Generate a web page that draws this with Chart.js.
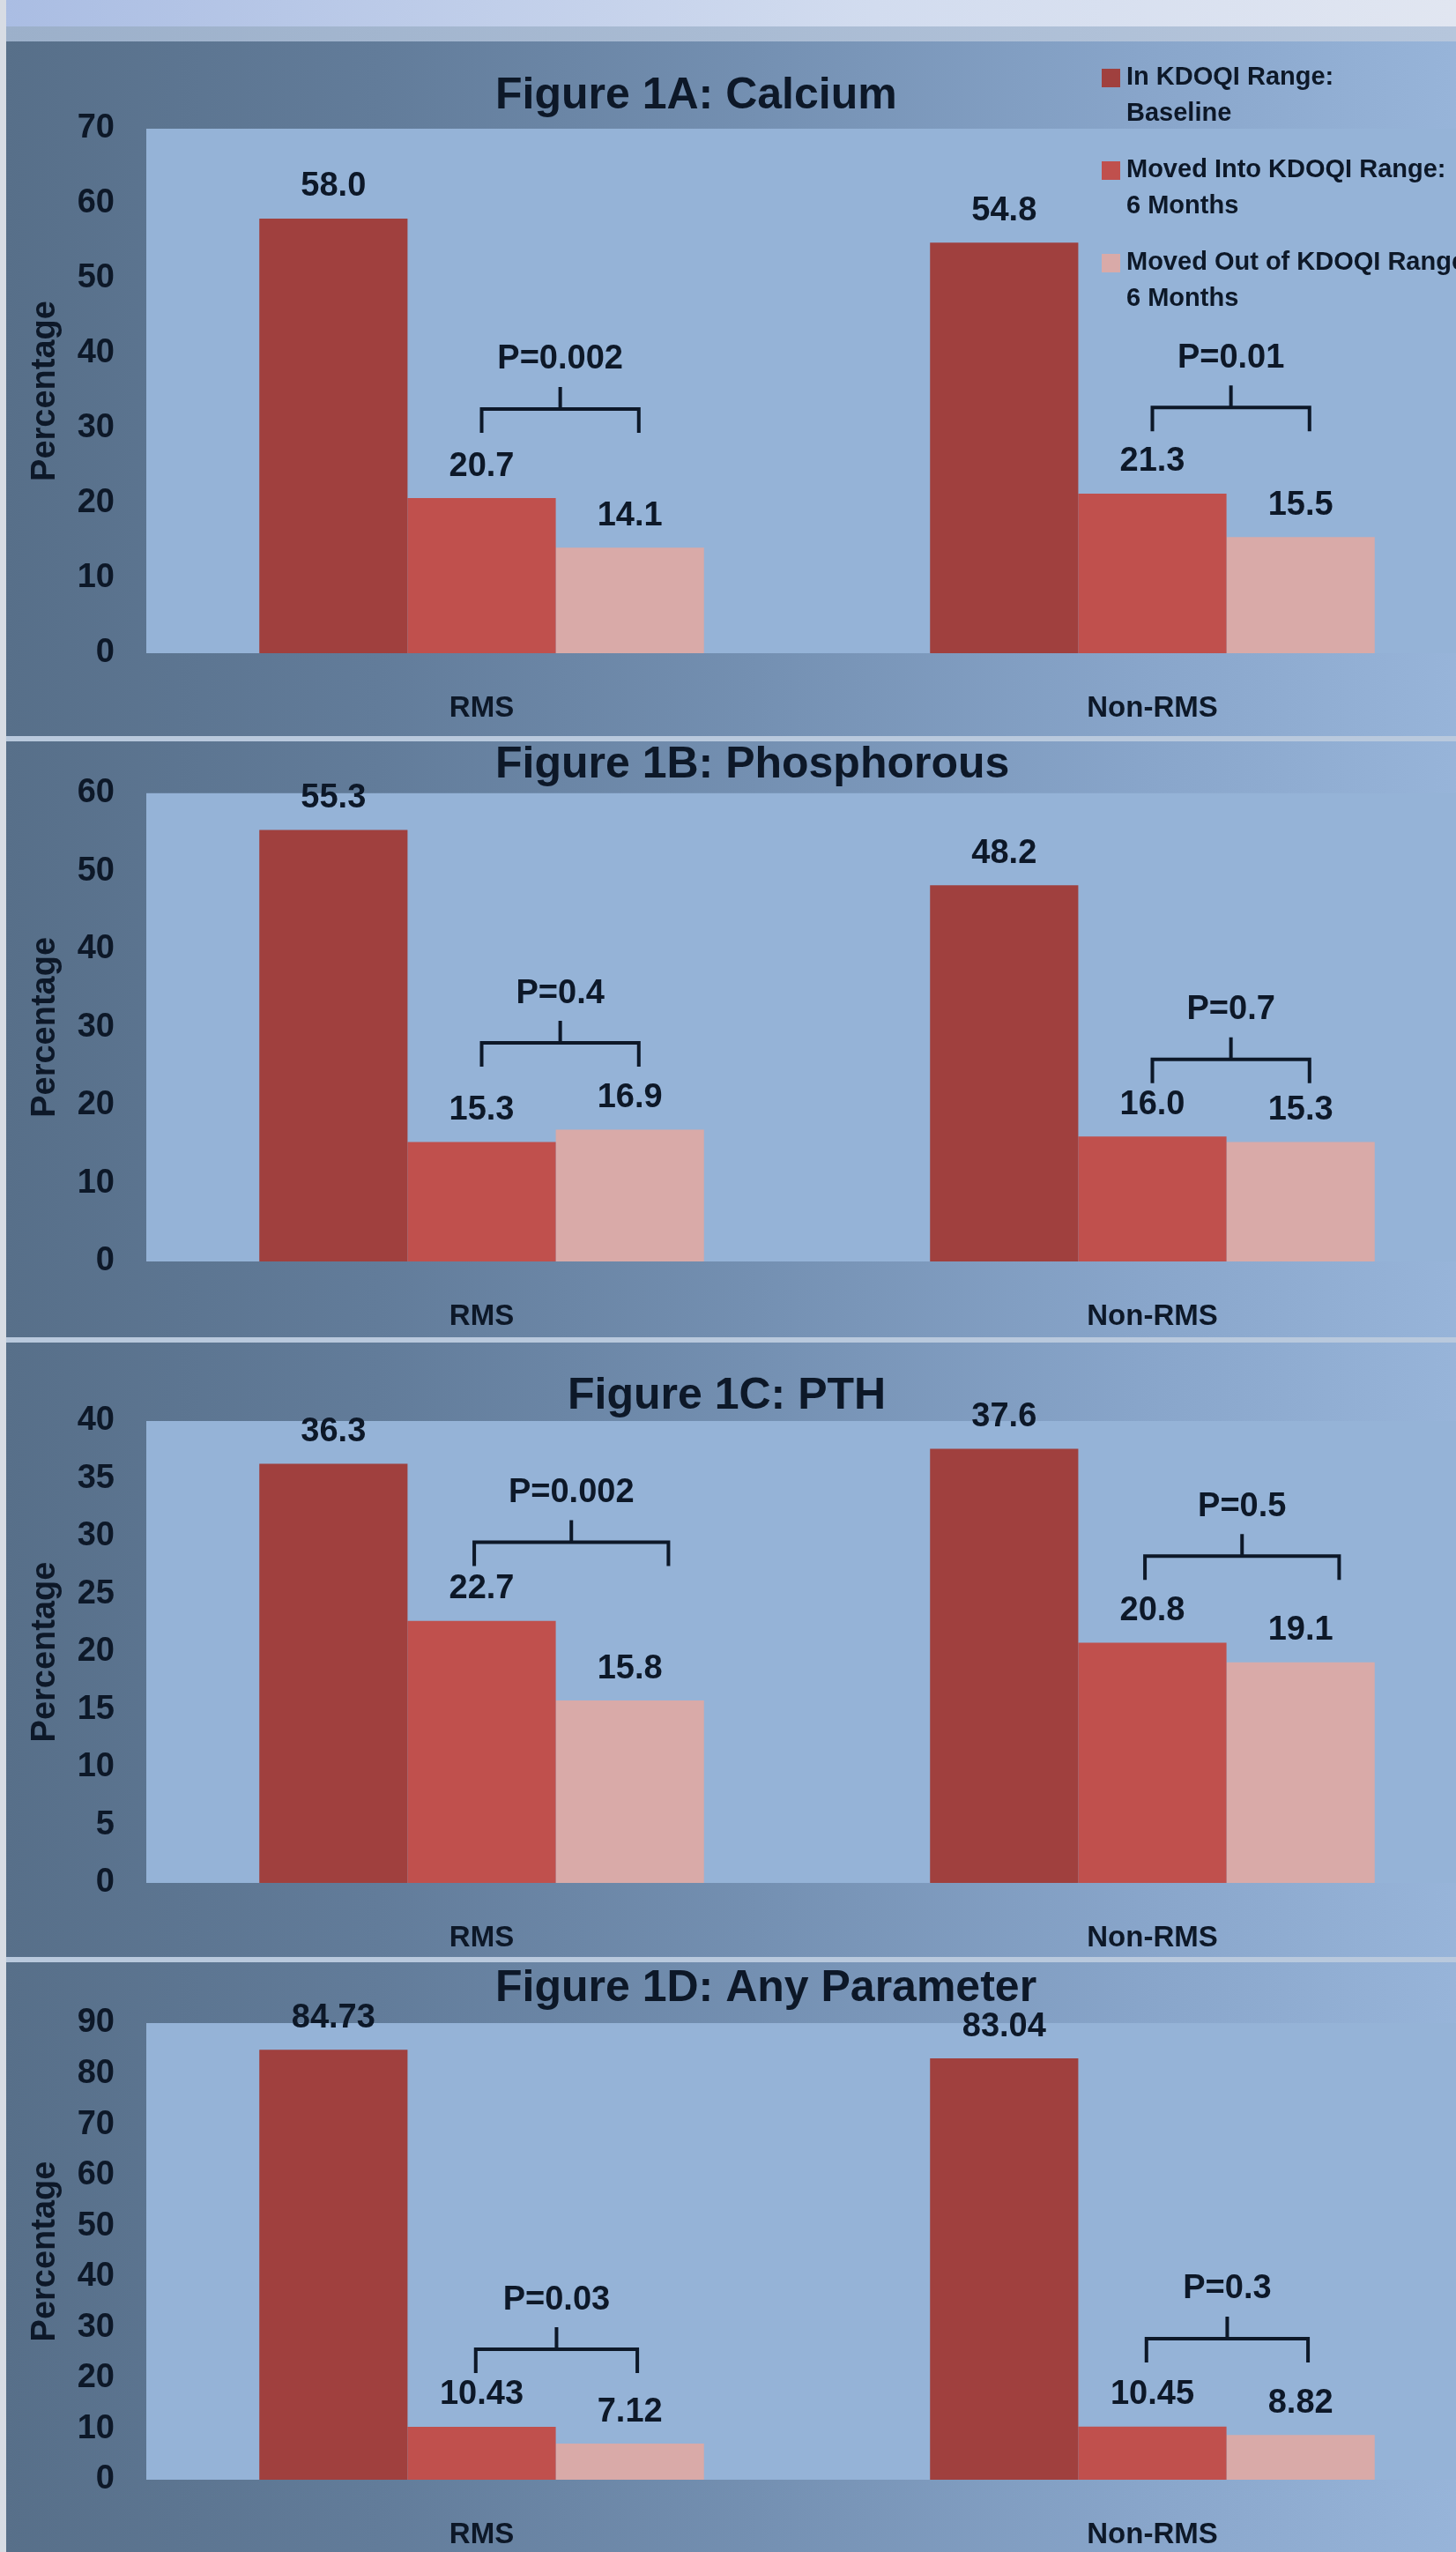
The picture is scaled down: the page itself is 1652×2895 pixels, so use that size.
<!DOCTYPE html>
<html>
<head>
    <title>Figure 1: KDOQI Range</title>
    <script src="https://cdn.jsdelivr.net/npm/chart.js"></script>
    <style>
        body {
            margin: 0;
            overflow: hidden;
            background: #d5dbe4;
        }
        #page {
            position: relative;
            width: 1652px;
            height: 2895px;
            overflow: hidden;
        }
        .panel {
            position: absolute;
            left: 0;
        }
        #header {
            position: absolute;
            left: 0; top: 0;
            width: 1652px; height: 30px;
            background: linear-gradient(to right, #aabde3, #d2dcef 60%, #e1e6f1);
        }
        #band {
            position: absolute;
            left: 0; top: 30px;
            width: 1652px; height: 17px;
            background: linear-gradient(to right, #9cb0ca, #b6c6dc);
        }
        .sep {
            position: absolute;
            left: 0;
            width: 1652px;
            height: 6px;
            background: #b9c9dd;
        }
        #edge {
            position: absolute;
            left: 0; top: 0;
            width: 7px; height: 2895px;
            background: #d7dce4;
        }
    </style>
</head>
<body>
<div id="page">
    <div id="header"></div>
    <div id="band"></div>
    <canvas id="chartA" class="panel"></canvas>
    <div class="sep" style="top:835px"></div>
    <canvas id="chartB" class="panel"></canvas>
    <div class="sep" style="top:1517px"></div>
    <canvas id="chartC" class="panel"></canvas>
    <div class="sep" style="top:2220px"></div>
    <canvas id="chartD" class="panel"></canvas>
    <div id="edge"></div>
</div>
<script>
    // Data
    const categories = ['RMS', 'Non-RMS'];
    const seriesNames = [
        ['In KDOQI Range:', 'Baseline'],
        ['Moved Into KDOQI Range:', '6 Months'],
        ['Moved Out of KDOQI Range:', '6 Months']
    ];

    const caBaseline = [58.0, 54.8];
    const caInto = [20.7, 21.3];
    const caOut = [14.1, 15.5];
    const caP = ['P=0.002', 'P=0.01'];

    const phBaseline = [55.3, 48.2];
    const phInto = [15.3, 16.0];
    const phOut = [16.9, 15.3];
    const phP = ['P=0.4', 'P=0.7'];

    const pthBaseline = [36.3, 37.6];
    const pthInto = [22.7, 20.8];
    const pthOut = [15.8, 19.1];
    const pthP = ['P=0.002', 'P=0.5'];

    const anyBaseline = [84.73, 83.04];
    const anyInto = [10.43, 10.45];
    const anyOut = [7.12, 8.82];
    const anyP = ['P=0.03', 'P=0.3'];

    const titles = ['Figure 1A: Calcium', 'Figure 1B: Phosphorous', 'Figure 1C: PTH', 'Figure 1D: Any Parameter'];
    const yMax = [70, 60, 40, 90];
    const yStep = [10, 10, 5, 10];

    const FONT = "'Liberation Sans', Arial, sans-serif";
    const INK = '#0d1828';
    const barColors = ['#a0403e', '#c0504d', '#d9aaa8'];
    const CANVAS_W = 1720;
    const PLOT_LEFT = 166;
    const PLOT_RIGHT = 1688;

    // panel geometry (page pixels) and annotation placement
    const panels = [
        { id: 'chartA', top: 47, height: 788, plotTop: 99, plotBottom: 694,
          values: [caBaseline, caInto, caOut], pLabels: caP, decimals: 1,
          bracketAt: [32.6, 32.8], span: [0, 0.06], titleX: 562, titleY: 62, legend: true },
        { id: 'chartB', top: 841, height: 676, plotTop: 54, plotBottom: 590,
          values: [phBaseline, phInto, phOut], pLabels: phP, decimals: 1,
          bracketAt: [28.0, 25.9], span: [0, 0.06], titleX: 562, titleY: 27, legend: false },
        { id: 'chartC', top: 1523, height: 697, plotTop: 89, plotBottom: 613,
          values: [pthBaseline, pthInto, pthOut], pLabels: pthP, decimals: 1,
          bracketAt: [29.5, 28.3], span: [-0.05, 0.26], titleX: 644, titleY: 61, legend: false },
        { id: 'chartD', top: 2226, height: 669, plotTop: 69, plotBottom: 587,
          values: [anyBaseline, anyInto, anyOut], pLabels: anyP, decimals: 2,
          bracketAt: [25.7, 27.8], span: [-0.04, 0.05], titleX: 562, titleY: 30, legend: false }
    ];

    const figurePlugin = {
        id: 'figure',
        beforeDraw(chart) {
            const ctx = chart.ctx;
            const a = chart.chartArea;
            ctx.save();
            const g = ctx.createLinearGradient(0, 0, chart.width, 0);
            g.addColorStop(0, '#576f89');
            g.addColorStop(0.25, '#627c9a');
            g.addColorStop(0.5, '#7490b2');
            g.addColorStop(0.75, '#88a5ca');
            g.addColorStop(1, '#9ab7dc');
            ctx.fillStyle = g;
            ctx.fillRect(0, 0, chart.width, chart.height);
            ctx.fillStyle = '#95b3d7';
            ctx.fillRect(a.left, a.top, a.right - a.left, a.bottom - a.top);
            ctx.restore();
        },
        afterDatasetsDraw(chart, args, opts) {
            const ctx = chart.ctx;
            const yScale = chart.scales.y;
            ctx.save();
            ctx.fillStyle = INK;
            ctx.font = `bold 38px ${FONT}`;
            ctx.textAlign = 'center';
            ctx.textBaseline = 'middle';

            // value labels
            chart.data.datasets.forEach((ds, i) => {
                chart.getDatasetMeta(i).data.forEach((bar, j) => {
                    ctx.fillText(ds.data[j].toFixed(opts.decimals), bar.x, bar.y - 36);
                });
            });

            // brackets with p values
            const into = chart.getDatasetMeta(1).data;
            const out = chart.getDatasetMeta(2).data;
            ctx.strokeStyle = INK;
            ctx.lineWidth = 4;
            opts.pLabels.forEach((label, j) => {
                const bw = into[j].width;
                const x1 = into[j].x + opts.span[0] * bw;
                const x2 = out[j].x + opts.span[1] * bw;
                const xm = (x1 + x2) / 2;
                const yl = yScale.getPixelForValue(opts.bracketAt[j]);
                ctx.beginPath();
                ctx.moveTo(x1, yl + 27);
                ctx.lineTo(x1, yl);
                ctx.lineTo(x2, yl);
                ctx.lineTo(x2, yl + 27);
                ctx.moveTo(xm, yl);
                ctx.lineTo(xm, yl - 25);
                ctx.stroke();
                ctx.fillText(label, xm, yl - 56);
            });
            ctx.restore();
        },
        afterDraw(chart, args, opts) {
            const ctx = chart.ctx;
            ctx.save();
            ctx.fillStyle = INK;
            ctx.font = `bold 50px ${FONT}`;
            ctx.textAlign = 'left';
            ctx.textBaseline = 'middle';
            ctx.fillText(opts.title, opts.titleX, opts.titleY);

            if (opts.legend) {
                ctx.font = `bold 29px ${FONT}`;
                chart.data.datasets.forEach((ds, i) => {
                    const y0 = 41 + i * 105;
                    ctx.fillStyle = ds.backgroundColor;
                    ctx.fillRect(1250, y0 - 10, 21, 21);
                    ctx.fillStyle = INK;
                    ds.label.forEach((line, k) => {
                        ctx.fillText(line, 1278, y0 + k * 41);
                    });
                });
            }
            ctx.restore();
        }
    };

    panels.forEach((p, n) => {
        const canvas = document.getElementById(p.id);
        canvas.width = CANVAS_W;
        canvas.height = p.height;
        canvas.style.top = p.top + 'px';

        new Chart(canvas.getContext('2d'), {
            type: 'bar',
            data: {
                labels: categories,
                datasets: p.values.map((vals, i) => ({
                    label: seriesNames[i],
                    data: vals,
                    backgroundColor: barColors[i],
                    borderWidth: 0,
                    categoryPercentage: 0.663,
                    barPercentage: 1.0
                }))
            },
            options: {
                responsive: false,
                animation: false,
                layout: {
                    padding: { top: p.plotTop, left: 0, right: CANVAS_W - PLOT_RIGHT, bottom: 0 }
                },
                plugins: {
                    legend: { display: false },
                    tooltip: { enabled: false },
                    figure: {
                        title: titles[n],
                        titleX: p.titleX,
                        titleY: p.titleY,
                        legend: p.legend,
                        decimals: p.decimals,
                        pLabels: p.pLabels,
                        bracketAt: p.bracketAt,
                        span: p.span
                    }
                },
                scales: {
                    x: {
                        grid: { display: false, drawTicks: false },
                        border: { display: false },
                        ticks: {
                            color: INK,
                            padding: 43,
                            font: { family: FONT, size: 33, weight: 'bold' }
                        },
                        afterFit(scale) {
                            scale.height = p.height - p.plotBottom;
                        }
                    },
                    y: {
                        min: 0,
                        max: yMax[n],
                        grid: { display: false, drawTicks: false },
                        border: { display: false },
                        ticks: {
                            stepSize: yStep[n],
                            color: INK,
                            padding: 36,
                            font: { family: FONT, size: 38, weight: 'bold' }
                        },
                        title: {
                            display: true,
                            text: 'Percentage',
                            color: INK,
                            padding: { top: 29, bottom: 0 },
                            font: { family: FONT, size: 38, weight: 'bold' }
                        },
                        afterFit(scale) {
                            scale.width = PLOT_LEFT;
                        }
                    }
                }
            },
            plugins: [figurePlugin]
        });
    });
</script>
</body>
</html>
